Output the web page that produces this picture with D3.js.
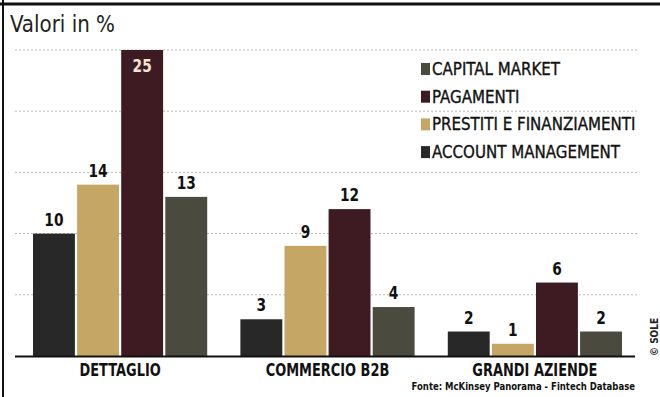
<!DOCTYPE html>
<html><head><meta charset="utf-8">
<script src="https://cdn.jsdelivr.net/npm/d3@7"></script>
<style>
body{margin:0;background:#fff;}
text{font-family:"Liberation Sans Narrow","Arial Narrow","DejaVu Sans Condensed",sans-serif;}
</style></head>
<body>
<svg id="c" width="660" height="397"></svg>
<script>
const categories = ["DETTAGLIO", "COMMERCIO B2B", "GRANDI AZIENDE"];
const seriesNames = ["ACCOUNT MANAGEMENT", "PRESTITI E FINANZIAMENTI", "PAGAMENTI", "CAPITAL MARKET"];
const accountManagement = [10, 3, 2];
const prestiti = [14, 9, 1];
const pagamenti = [25, 12, 6];
const capitalMarket = [13, 4, 2];
const yTicks = [5, 10, 15, 20, 25];
const legendOrder = ["CAPITAL MARKET", "PAGAMENTI", "PRESTITI E FINANZIAMENTI", "ACCOUNT MANAGEMENT"];
const colors = {"ACCOUNT MANAGEMENT":"#282828","PRESTITI E FINANZIAMENTI":"#c6a664","PAGAMENTI":"#3e1b22","CAPITAL MARKET":"#4b4a3e"};

const seriesValues = [accountManagement, prestiti, pagamenti, capitalMarket];
const svg = d3.select("#c");

function condense(sel, f){
  sel.each(function(){
    const L = this.getComputedTextLength();
    d3.select(this).attr("textLength", L*f).attr("lengthAdjust","spacingAndGlyphs");
  });
}

// frame
svg.append("line").attr("x1",0).attr("x2",660).attr("y1",4).attr("y2",4).attr("stroke","#111").attr("stroke-width",3);
svg.append("line").attr("x1",3).attr("x2",3).attr("y1",0).attr("y2",397).attr("stroke","#111").attr("stroke-width",2);

svg.append("text").attr("x",10).attr("y",32).attr("font-size",23).attr("fill","#222").text("Valori in %").call(condense,0.96);

const y = d3.scaleLinear().domain([0,25]).range([356,50]);
const x0 = d3.scaleBand().domain(categories).range([33,622]).paddingInner(0.16).paddingOuter(0);
const x1 = d3.scaleBand().domain(seriesNames).range([0,x0.bandwidth()]).paddingInner(0.05);

// grid
svg.append("g").selectAll("line").data(yTicks).join("line")
  .attr("x1",15).attr("x2",637).attr("y1",d=>y(d)).attr("y2",d=>y(d))
  .attr("stroke","#b8b8b8").attr("stroke-width",1).attr("stroke-dasharray","2,2");

const data = [];
categories.forEach((c,i)=>seriesNames.forEach((s,j)=>data.push({c,s,v:seriesValues[j][i]})));

svg.append("g").selectAll("rect").data(data).join("rect")
  .attr("x",d=>x0(d.c)+x1(d.s)).attr("width",x1.bandwidth())
  .attr("y",d=>y(d.v)).attr("height",d=>y(0)-y(d.v))
  .attr("fill",d=>colors[d.s]);

svg.append("g").selectAll("text").data(data).join("text")
  .attr("x",d=>x0(d.c)+x1(d.s)+x1.bandwidth()/2)
  .attr("y",d=>d.v>=20 ? y(d.v)+22 : y(d.v)-8)
  .attr("text-anchor","middle").attr("font-size",18).attr("font-weight","bold")
  .attr("fill",d=>d.v>=20?"#f3e6d6":"#111").text(d=>d.v).call(condense,0.85);

// axis
svg.append("line").attr("x1",15).attr("x2",635).attr("y1",356.5).attr("y2",356.5).attr("stroke","#111").attr("stroke-width",2);
svg.append("g").selectAll("text").data(categories).join("text")
  .attr("x",d=>x0(d)+x0.bandwidth()/2).attr("y",376)
  .attr("text-anchor","middle").attr("font-size",18).attr("font-weight","bold").attr("fill","#111").text(d=>d).call(condense,0.8);

// legend
const lg = svg.append("g").selectAll("g").data(legendOrder).join("g")
  .attr("transform",(d,i)=>`translate(421,${75+i*27.7})`);
lg.append("rect").attr("x",0).attr("y",-12).attr("width",9).attr("height",12).attr("fill",d=>colors[d]);
lg.append("text").attr("x",11).attr("y",0).attr("font-size",18).attr("fill","#111")
  .attr("stroke","#111").attr("stroke-width",0.35).text(d=>d).call(condense,0.93);

svg.append("text").attr("transform","translate(635,390) scale(0.86,1)").attr("text-anchor","end").attr("font-size",11).attr("font-weight","bold").attr("fill","#111")
  .text("Fonte: McKinsey Panorama - Fintech Database");

svg.append("text").attr("transform","translate(658,356) rotate(-90)").attr("font-size",10).attr("font-weight","bold").attr("fill","#222").text("© SOLE");
</script>
</body></html>
